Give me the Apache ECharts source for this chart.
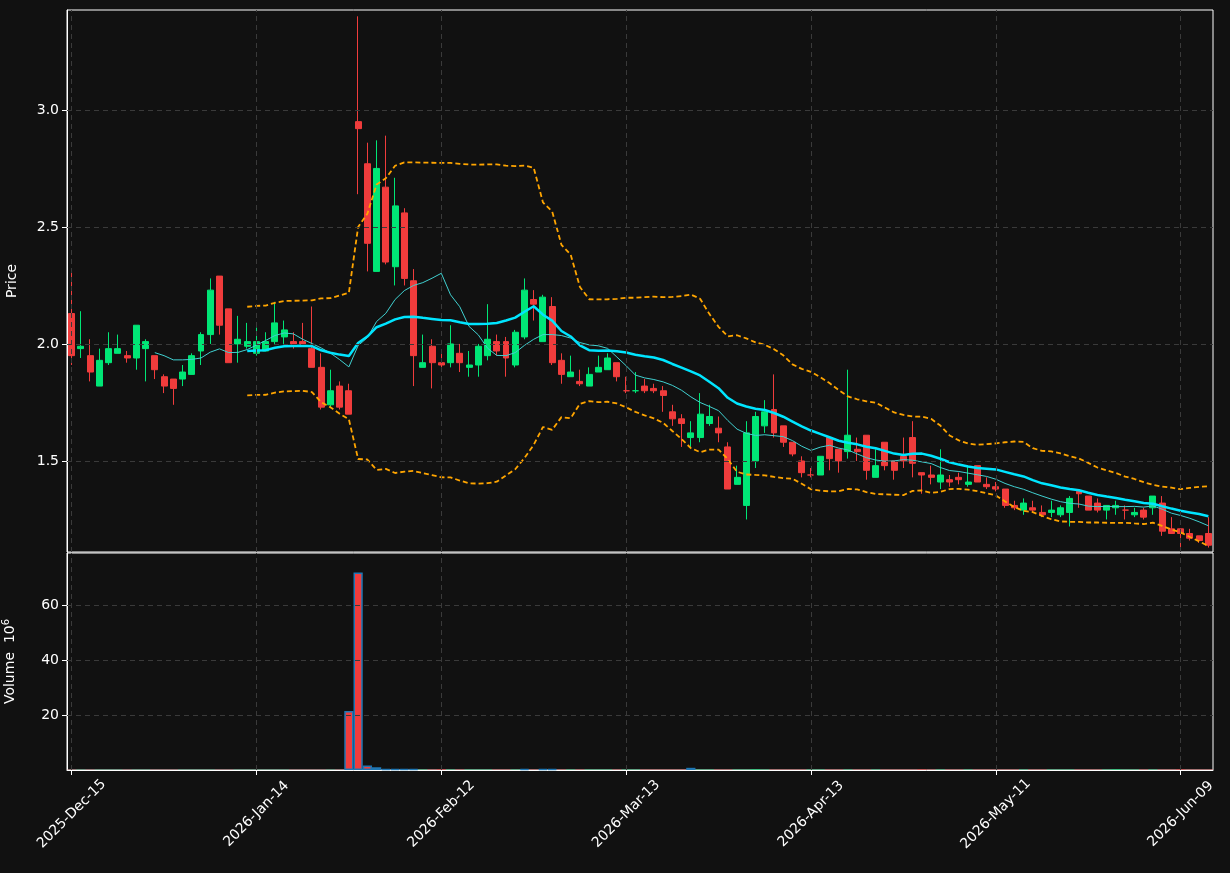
<!DOCTYPE html>
<html>
<head>
<meta charset="utf-8">
<script src="https://cdn.jsdelivr.net/npm/echarts@6/dist/echarts.min.js"></script>
<style>
html, body { margin: 0; padding: 0; background: #111111; }
#main { width: 1230px; height: 873px; }
</style>
</head>
<body>
<div id="main"></div>
<script>
// daily bars: open, close, low, high
var opens  = [2.13,1.98,1.95,1.82,1.92,1.96,1.95,1.94,1.98,1.95,1.86,1.85,1.85,1.87,1.97,2.04,2.29,2.15,2.00,1.99,
              1.96,1.97,2.01,2.03,2.01,2.01,1.98,1.90,1.74,1.82,1.80,2.95,2.77,2.31,2.67,2.33,2.56,2.27,1.90,1.99,
              1.92,1.92,1.96,1.90,1.91,1.95,2.01,2.01,1.91,2.03,2.19,2.01,2.16,1.93,1.86,1.84,1.82,1.88,1.89,1.92,
              1.80,1.80,1.82,1.81,1.80,1.71,1.68,1.60,1.60,1.66,1.64,1.56,1.40,1.31,1.50,1.65,1.72,1.65,1.58,1.50,
              1.44,1.44,1.60,1.55,1.54,1.55,1.61,1.43,1.58,1.50,1.52,1.60,1.45,1.44,1.41,1.42,1.43,1.40,1.48,1.40,
              1.39,1.38,1.31,1.29,1.30,1.28,1.28,1.27,1.28,1.37,1.35,1.32,1.29,1.30,1.29,1.27,1.29,1.30,1.32,1.21,
              1.21,1.19,1.18,1.19];
var closes = [1.95,1.99,1.88,1.93,1.98,1.98,1.94,2.08,2.01,1.89,1.82,1.81,1.88,1.95,2.04,2.23,2.08,1.92,2.02,2.01,
              2.01,2.01,2.09,2.06,2.00,2.00,1.90,1.73,1.80,1.73,1.70,2.92,2.43,2.75,2.35,2.59,2.28,1.95,1.92,1.92,
              1.91,2.00,1.92,1.91,1.99,2.02,1.97,1.94,2.05,2.23,2.17,2.20,1.92,1.87,1.88,1.83,1.87,1.90,1.94,1.86,
              1.80,1.80,1.80,1.80,1.78,1.68,1.66,1.62,1.70,1.69,1.62,1.38,1.43,1.62,1.69,1.71,1.62,1.58,1.53,1.45,
              1.44,1.52,1.51,1.50,1.61,1.54,1.46,1.48,1.48,1.46,1.50,1.49,1.44,1.43,1.44,1.41,1.42,1.41,1.41,1.39,
              1.38,1.31,1.30,1.32,1.29,1.27,1.29,1.30,1.34,1.36,1.29,1.29,1.31,1.31,1.29,1.28,1.26,1.35,1.20,1.19,
              1.19,1.17,1.16,1.14];
var lows   = [1.91,1.94,1.84,1.82,1.91,1.96,1.92,1.89,1.84,1.85,1.79,1.74,1.82,1.87,1.91,2.00,2.04,1.92,1.92,1.98,
              1.95,1.97,2.00,2.00,1.98,1.99,1.90,1.72,1.73,1.72,1.70,2.64,2.31,2.31,2.34,2.25,2.25,1.82,1.90,1.81,
              1.88,1.90,1.88,1.86,1.86,1.93,1.95,1.86,1.90,2.02,2.10,2.01,1.91,1.83,1.86,1.82,1.82,1.88,1.89,1.84,
              1.79,1.79,1.79,1.79,1.71,1.65,1.56,1.56,1.58,1.65,1.58,1.38,1.40,1.25,1.47,1.62,1.60,1.56,1.52,1.43,
              1.43,1.44,1.46,1.45,1.51,1.50,1.42,1.43,1.46,1.42,1.47,1.43,1.36,1.40,1.38,1.39,1.40,1.39,1.41,1.38,
              1.37,1.30,1.29,1.27,1.28,1.26,1.26,1.26,1.22,1.30,1.29,1.28,1.25,1.27,1.25,1.26,1.25,1.27,1.18,1.19,
              1.13,1.16,1.15,1.13];
var highs  = [2.32,2.14,2.02,1.98,2.05,2.04,1.97,2.08,2.02,1.95,1.87,1.85,1.91,1.96,2.05,2.28,2.29,2.15,2.12,2.09,
              2.07,2.05,2.18,2.10,2.05,2.09,2.16,1.96,1.89,1.84,1.83,3.40,2.86,2.87,2.89,2.71,2.58,2.32,2.04,2.02,
              1.97,2.08,2.00,1.97,2.00,2.17,2.04,2.03,2.06,2.28,2.23,2.21,2.20,1.96,1.95,1.89,1.90,1.95,1.96,1.92,
              1.86,1.88,1.85,1.83,1.82,1.74,1.70,1.67,1.79,1.74,1.69,1.58,1.48,1.67,1.71,1.76,1.87,1.65,1.58,1.52,
              1.47,1.52,1.60,1.55,1.89,1.60,1.61,1.55,1.58,1.50,1.60,1.67,1.45,1.48,1.55,1.44,1.45,1.48,1.48,1.43,
              1.41,1.38,1.33,1.34,1.33,1.31,1.33,1.31,1.35,1.38,1.35,1.34,1.31,1.33,1.31,1.30,1.30,1.35,1.35,1.26,
              1.21,1.21,1.18,1.26];
// volume in millions
var volumes = [0.05,0.05,0.05,0.05,0.05,0.05,0.05,0.05,0.05,0.05,0.05,0.05,0.05,0.05,0.05,0.05,0.05,0.05,0.05,0.05,
               0.05,0.05,0.05,0.05,0.05,0.05,0.05,0.05,0.05,0.05,21.5,71.9,1.6,1.0,0.4,0.3,0.3,0.3,0.1,0.1,
               0.2,0.1,0.1,0.1,0.1,0.1,0.1,0.1,0.1,0.3,0.1,0.3,0.3,0.1,0.1,0.1,0.1,0.1,0.1,0.1,
               0.1,0.1,0.1,0.1,0.1,0.1,0.1,0.8,0.1,0.1,0.1,0.1,0.1,0.1,0.2,0.1,0.1,0.1,0.1,0.1,
               0.1,0.1,0.1,0.1,0.1,0.1,0.1,0.1,0.1,0.1,0.1,0.1,0.2,0.1,0.1,0.1,0.1,0.1,0.1,0.1,
               0.1,0.1,0.1,0.1,0.1,0.1,0.1,0.1,0.1,0.1,0.1,0.1,0.1,0.2,0.1,0.1,0.1,0.1,0.1,0.1,
               0.2,0.1,0.1,0.1];
var priceTicks = [1.5, 2.0, 2.5, 3.0];
var volumeTicks = [20, 40, 60];

// trading calendar (weekdays, exchange holidays skipped)
var holidays = ['2025-12-25', '2026-01-01', '2026-01-19', '2026-02-16', '2026-04-03', '2026-05-25'];
var monthNames = ['Jan','Feb','Mar','Apr','May','Jun','Jul','Aug','Sep','Oct','Nov','Dec'];
var dates = [];
var d = new Date(Date.UTC(2025, 11, 15));
while (dates.length < closes.length) {
	var iso = d.toISOString().slice(0, 10);
	var wd = d.getUTCDay();
	if (wd !== 0 && wd !== 6 && holidays.indexOf(iso) < 0) {
		dates.push(d.getUTCFullYear() + '-' + monthNames[d.getUTCMonth()] + '-' + iso.slice(8, 10));
	}
	d.setUTCDate(d.getUTCDate() + 1);
}

function movingAvg(n) {
	var out = [];
	for (var i = 0; i < closes.length; i++) {
		if (i < n - 1) { out.push('-'); continue; }
		var s = 0;
		for (var j = i - n + 1; j <= i; j++) s += closes[j];
		out.push(s / n);
	}
	return out;
}
function band(n, k) {
	var mid = movingAvg(n), up = [], lo = [];
	for (var i = 0; i < closes.length; i++) {
		if (mid[i] === '-') { up.push('-'); lo.push('-'); continue; }
		var v = 0;
		for (var j = i - n + 1; j <= i; j++) v += Math.pow(closes[j] - mid[i], 2);
		var sd = Math.sqrt(v / n);
		up.push(mid[i] + k * sd);
		lo.push(mid[i] - k * sd);
	}
	return [up, lo];
}

var ma10 = movingAvg(10);
var ma20 = movingAvg(20);
var bb = band(20, 2);
var UP = '#00e676', DOWN = '#f03c3c';

var candles = [];
var vols = [];
for (var i = 0; i < closes.length; i++) {
	candles.push([opens[i], closes[i], lows[i], highs[i]]);
	vols.push({
		value: volumes[i],
		itemStyle: {
			color: closes[i] >= opens[i] ? UP : DOWN,
			borderWidth: volumes[i] >= 0.3 ? 1.5 : 0
		}
	});
}

var tickDates = [];
for (var t = 0; t < dates.length; t += 20) tickDates.push({ xAxis: dates[t] });

var myChart = echarts.init(document.getElementById('main'));
var axisText = { color: '#ffffff', fontSize: 14, fontFamily: 'DejaVu Sans' };
var option = {
	backgroundColor: '#111111',
	animation: false,
	grid: [
		{ left: 67, right: 17, top: 10, height: 542, show: true, borderColor: '#ffffff', borderWidth: 1, outerBoundsMode: 'none', containLabel: false },
		{ left: 67, right: 17, top: 553, height: 217, show: true, borderColor: '#ffffff', borderWidth: 1, outerBoundsMode: 'none', containLabel: false }
	],
	xAxis: [
		{
			type: 'category', gridIndex: 0, data: dates, boundaryGap: true,
			axisLine: { show: false }, axisTick: { show: false }, axisLabel: { show: false },
			splitLine: { show: false }
		},
		{
			type: 'category', gridIndex: 1, data: dates, boundaryGap: true,
			axisLine: { lineStyle: { color: '#ffffff' } },
			axisTick: { show: true, interval: 19, alignWithLabel: true, lineStyle: { color: '#ffffff' } },
			axisLabel: Object.assign({ interval: 19, rotate: 45, margin: 44, align: 'center', verticalAlign: 'middle' }, axisText),
			splitLine: { show: false }
		}
	],
	yAxis: [
		{
			type: 'value', gridIndex: 0, min: 1.111, max: 3.427,
			name: 'Price', nameLocation: 'middle', nameGap: 48, nameRotate: 90,
			nameTextStyle: axisText,
			axisLine: { show: true, lineStyle: { color: '#ffffff' } },
			axisTick: { show: true, customValues: priceTicks, lineStyle: { color: '#ffffff' } },
			axisLabel: Object.assign({ customValues: priceTicks, formatter: function (v) { return v.toFixed(1); } }, axisText),
			splitLine: { show: false }
		},
		{
			type: 'value', gridIndex: 1, min: 0, max: 79,
			name: 'Volume  10{sup|6}', nameLocation: 'middle', nameGap: 48, nameRotate: 90,
			nameTextStyle: Object.assign({ rich: { sup: { color: '#ffffff', fontSize: 10, verticalAlign: 'top', padding: [0, 0, 8, 0] } } }, axisText),
			axisLine: { show: true, lineStyle: { color: '#ffffff' } },
			axisTick: { show: true, customValues: volumeTicks, lineStyle: { color: '#ffffff' } },
			axisLabel: Object.assign({ customValues: volumeTicks }, axisText),
			splitLine: { show: false }
		}
	],
	series: [
		{
			name: 'hgrid', type: 'line', xAxisIndex: 0, yAxisIndex: 0, data: [], silent: true,
			markLine: {
				silent: true, symbol: 'none', label: { show: false },
				lineStyle: { color: '#3a3a3a', type: [5, 4], width: 1 },
				data: priceTicks.map(function (v) { return { yAxis: v }; }).concat(tickDates)
			}
		},
		{
			name: 'vgrid', type: 'line', xAxisIndex: 1, yAxisIndex: 1, data: [], silent: true,
			markLine: {
				silent: true, symbol: 'none', label: { show: false },
				lineStyle: { color: '#3a3a3a', type: [5, 4], width: 1 },
				data: volumeTicks.map(function (v) { return { yAxis: v }; }).concat(tickDates)
			}
		},
		{
			name: 'OHLC', type: 'candlestick', xAxisIndex: 0, yAxisIndex: 0, data: candles,
			barWidth: '70%',
			itemStyle: { color: UP, color0: DOWN, borderColor: UP, borderColor0: DOWN, borderWidth: 1 }
		},
		{
			name: 'MA10', type: 'line', xAxisIndex: 0, yAxisIndex: 0, data: ma10,
			symbol: 'none', lineStyle: { color: '#40d0d0', width: 1 }
		},
		{
			name: 'MA20', type: 'line', xAxisIndex: 0, yAxisIndex: 0, data: ma20,
			symbol: 'none', lineStyle: { color: '#00e5ff', width: 2.5 }
		},
		{
			name: 'BB upper', type: 'line', xAxisIndex: 0, yAxisIndex: 0, data: bb[0],
			symbol: 'none', lineStyle: { color: '#ffa500', width: 1.8, type: [5, 3] }
		},
		{
			name: 'BB lower', type: 'line', xAxisIndex: 0, yAxisIndex: 0, data: bb[1],
			symbol: 'none', lineStyle: { color: '#ffa500', width: 1.8, type: [5, 3] }
		},
		{
			name: 'Volume', type: 'bar', xAxisIndex: 1, yAxisIndex: 1, data: vols,
			barWidth: '100%',
			itemStyle: { borderColor: '#1f77b4' }
		}
	]
};
myChart.setOption(option);
</script>
</body>
</html>
